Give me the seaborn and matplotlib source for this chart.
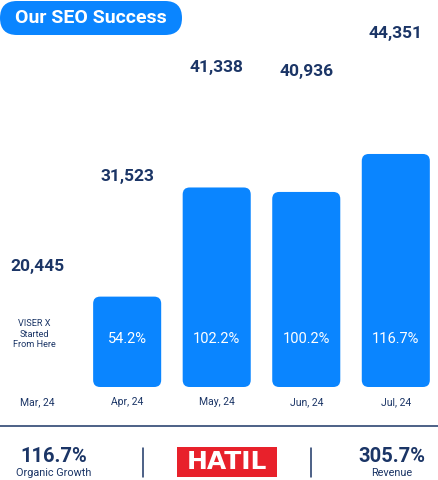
import matplotlib
matplotlib.use("Agg")
import matplotlib.pyplot as plt
import matplotlib.transforms as mtransforms
from matplotlib.patches import FancyBboxPatch, Rectangle
import seaborn as sns
import pandas as pd

# data
months = ["Mar, 24", "Apr, 24", "May, 24", "Jun, 24", "Jul, 24"]
traffic = [20445, 31523, 41338, 40936, 44351]
growth = [None, 54.2, 102.2, 100.2, 116.7]
start_note = "VISER X\nStarted\nFrom Here"
organic_growth = "116.7%"
revenue = "305.7%"

BLUE = "#0a85ff"
NAVY = "#1b3566"
RED = "#e8212b"

sns.set_theme(style="white")
plt.rcParams["font.family"] = ["Roboto", "DejaVu Sans"]

df = pd.DataFrame({"month": months, "traffic": traffic})

fig = plt.figure(figsize=(4.38, 4.8), dpi=100)
ax = fig.add_axes([0, 93 / 480, 437 / 438, 367 / 480])

sns.barplot(data=df, x="month", y="traffic", color=BLUE, saturation=1, width=0.76, ax=ax)

base, top = 23395, 56399
ax.set_xlim(-0.42, 4.46)
ax.set_ylim(base, top)
sns.despine(ax=ax, left=True, bottom=True)
ax.set_xlabel("")
ax.set_ylabel("")
ax.set_yticks([])
ax.tick_params(axis="x", length=0, pad=7, labelsize=7.5, labelcolor=NAVY)

# swap the square bars for rounded ones sitting on the baseline
px_x = 437 / (4.46 + 0.42)
px_y = 367 / (top - base)
r = 7 / px_x
for p in list(ax.patches):
    x0, w, h = p.get_x(), p.get_width(), p.get_height()
    p.remove()
    if h <= base:
        continue
    ax.add_patch(FancyBboxPatch((x0, base), w, h - base,
                                boxstyle=f"round,pad=0,rounding_size={r}",
                                mutation_aspect=px_x / px_y,
                                facecolor=BLUE, edgecolor="none"))

# value labels well above the bars
for i, v in enumerate(traffic):
    ax.annotate(f"{v:,}", (i, max(v, base)), xytext=(0, 120), textcoords="offset pixels",
                ha="center", va="center", fontsize=12.5, fontweight="bold",
                color=NAVY, annotation_clip=False)

trans = mtransforms.blended_transform_factory(ax.transData, ax.transAxes)
for i, g in enumerate(growth):
    if g is None:
        ax.text(i - 0.04, 0.144, start_note, transform=trans, ha="center", va="center",
                fontsize=6.6, color=NAVY, linespacing=1.2)
    else:
        ax.text(i, 0.131, f"{g}%", transform=trans, ha="center", va="center",
                fontsize=10.5, color="white")

# title pill
fig.patches.append(FancyBboxPatch((0.0, 4.45), 1.82, 0.34,
                                  boxstyle="round,pad=0,rounding_size=0.17",
                                  transform=fig.dpi_scale_trans, facecolor=BLUE,
                                  edgecolor="none"))
fig.text(90.5 / 438, 1 - 18 / 480, "Our SEO Success", ha="center", va="center",
         fontsize=14, fontweight="bold", color="white")

# footer
fig.add_artist(plt.Line2D([0, 1], [1 - 426 / 480, 1 - 426 / 480], color=NAVY, lw=1.1))
for xs in (143, 311):
    fig.add_artist(plt.Line2D([xs / 438, xs / 438], [1 - 448 / 480, 1 - 477 / 480],
                              color=NAVY, lw=1.1))

fig.text(54 / 438, 1 - 456 / 480, organic_growth, ha="center", va="center",
         fontsize=14.5, fontweight="bold", color=NAVY)
fig.text(54 / 438, 1 - 473 / 480, "Organic Growth", ha="center", va="center",
         fontsize=7.8, color=NAVY)
fig.text(392 / 438, 1 - 456 / 480, revenue, ha="center", va="center",
         fontsize=14.5, fontweight="bold", color=NAVY)
fig.text(392 / 438, 1 - 473 / 480, "Revenue", ha="center", va="center",
         fontsize=7.8, color=NAVY)

fig.patches.append(Rectangle((177 / 438, 1 - 477 / 480), 100 / 438, 30 / 480,
                             transform=fig.transFigure, facecolor=RED, edgecolor="none"))
fig.text(227 / 438, 1 - 462 / 480, "HATIL", ha="center", va="center",
         fontsize=18, fontweight="bold", color="white", family="DejaVu Sans")

fig.savefig("out.png", dpi=100, facecolor="white")
